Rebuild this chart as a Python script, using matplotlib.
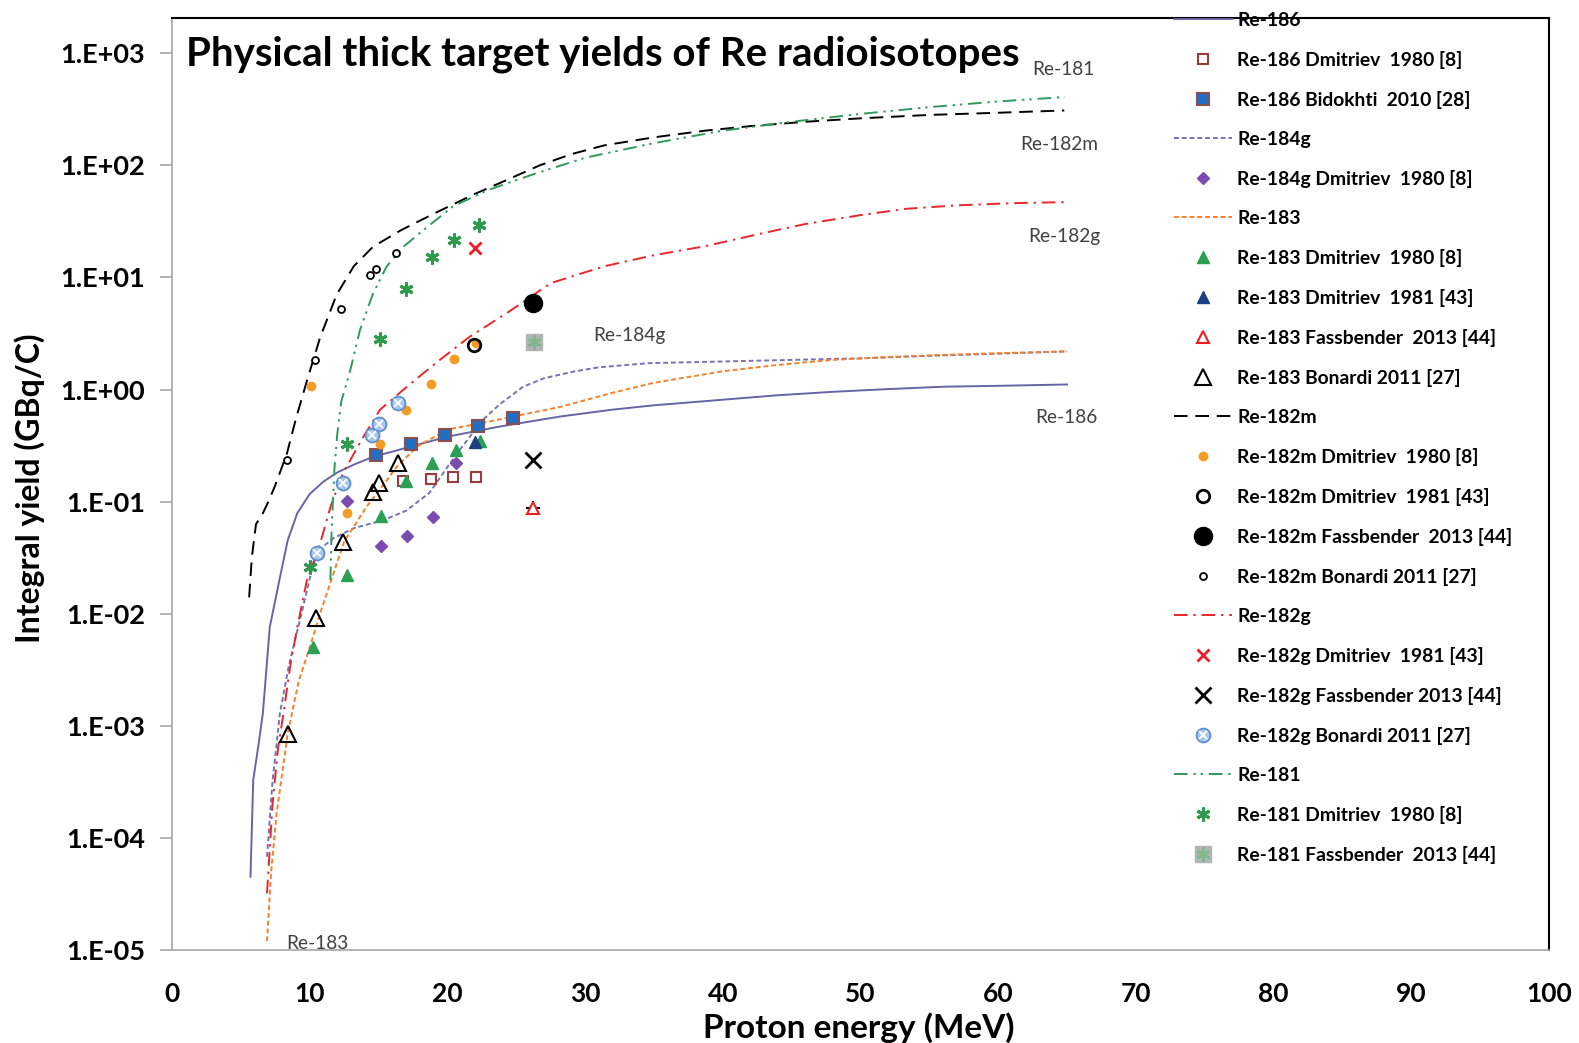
import math
import matplotlib
matplotlib.use('Agg')
import matplotlib.pyplot as plt
from matplotlib.ticker import FixedLocator, FuncFormatter, NullLocator

plt.rcParams['font.family'] = ['Lato', 'DejaVu Sans']

# ---------------- model curves (energy MeV, yield GBq/C) ----------------
re186_E = [5.7, 5.9, 6.3, 6.6, 7.1, 7.8, 8.4, 9.1, 10.0, 11.0, 12.0, 13.2, 14.6, 17.3, 20.0,
           23.8, 28.2, 31.9, 35.0, 39.9, 44.0, 48.0, 52.0, 56.0, 60.0, 65.0]
re186_Y = [4.5e-5, 3.3e-4, 7.0e-4, 1.3e-3, 7.6e-3, 0.020, 0.045, 0.079, 0.117, 0.151, 0.182,
           0.214, 0.251, 0.309, 0.38, 0.468, 0.575, 0.66, 0.724, 0.81, 0.89, 0.955, 1.01,
           1.06, 1.08, 1.11]

re184g_E = [6.9, 7.3, 7.84, 8.5, 9.3, 10.26, 11.0, 11.7, 13.2, 15.3, 17.0, 18.7, 20.7, 22.6,
            23.8, 25.5, 27.0, 29.2, 31.0, 34.6, 40.0, 45.0, 50.0, 55.0, 60.0, 65.0]
re184g_Y = [6.8e-5, 3.2e-4, 1.3e-3, 3.5e-3, 8.9e-3, 0.028, 0.040, 0.047, 0.058, 0.068, 0.083,
            0.12, 0.27, 0.54, 0.74, 1.06, 1.26, 1.45, 1.58, 1.72, 1.78, 1.84, 1.9, 2.0, 2.09, 2.19]

re183_E = [6.9, 7.2, 7.6, 8.4, 9.2, 10.0, 10.75, 12.5, 14.1, 15.6, 16.3, 17.8, 20.0, 22.4,
           24.8, 28.2, 31.9, 35.0, 39.9, 44.0, 48.0, 52.0, 56.0, 60.0, 65.0]
re183_Y = [1.2e-5, 5.0e-5, 1.66e-4, 8.5e-4, 2.5e-3, 5.0e-3, 0.010, 0.044, 0.089, 0.155, 0.204,
           0.31, 0.44, 0.50, 0.575, 0.70, 0.93, 1.15, 1.45, 1.66, 1.84, 1.95, 2.04, 2.11, 2.19]

re182m_E = [5.6, 5.8, 6.1, 6.6, 7.0, 7.5, 8.35, 9.0, 9.8, 10.75, 11.95, 13.2, 14.6, 16.6, 19.0,
            21.9, 24.3, 26.7, 29.0, 31.4, 35.0, 38.7, 42.0, 46.0, 50.0, 55.0, 60.0, 64.8]
re182m_Y = [0.014, 0.032, 0.063, 0.079, 0.10, 0.14, 0.27, 0.55, 1.2, 2.9, 7.0, 12.6, 18.8, 26.3,
            37, 55, 74, 100, 126, 151, 178, 204, 224, 245, 263, 282, 295, 309]

re182g_E = [6.9, 7.3, 7.7, 8.1, 8.6, 9.1, 9.8, 10.7, 11.5, 12.4, 13.9, 15.1, 17.1, 19.2, 21.6,
            24.3, 27.5, 31.4, 35.0, 38.7, 43.0, 46.0, 50.0, 53.3, 57.0, 61.0, 64.8]
re182g_Y = [3.2e-5, 2.0e-4, 6.3e-4, 1.3e-3, 3.5e-3, 7.6e-3, 0.020, 0.040, 0.089, 0.178, 0.38,
            0.66, 1.07, 1.74, 2.95, 4.8, 8.9, 12.6, 15.8, 19, 25, 30, 36, 41, 44, 46, 47]

re181_E = [11.5, 11.6, 11.8, 12.0, 12.3, 12.9, 13.65, 14.6, 15.6, 16.8, 18.5, 20.4, 22.9, 26.2,
           30.0, 35.0, 40.0, 45.0, 50.0, 55.0, 60.0, 64.8]
re181_Y = [0.02, 0.06, 0.2, 0.40, 0.79, 1.41, 3.4, 7.2, 12.6, 18.8, 28, 43, 60, 83, 117, 158,
           204, 245, 288, 331, 372, 407]

# ---------------- experimental data (energy MeV, yield GBq/C) ----------------
re186_dmi80_E = [16.75, 18.8, 20.4, 22.1]
re186_dmi80_Y = [0.153, 0.158, 0.166, 0.166]
re186_bid10_E = [14.8, 17.36, 19.8, 22.25, 24.8]
re186_bid10_Y = [0.26, 0.33, 0.39, 0.47, 0.56]
re184g_dmi80_E = [12.73, 15.2, 17.04, 18.98, 20.6]
re184g_dmi80_Y = [0.102, 0.040, 0.049, 0.073, 0.22]
re183_dmi80_E = [10.26, 12.7, 15.2, 17.0, 18.9, 20.6, 22.4]
re183_dmi80_Y = [0.0051, 0.022, 0.074, 0.153, 0.22, 0.29, 0.35]
re183_dmi81_E = [22.0]
re183_dmi81_Y = [0.34]
re183_fas13_E = [26.2]
re183_fas13_Y = [0.087]
re183_bon11_E = [8.45, 10.46, 12.4, 14.6, 15.0, 16.4]
re183_bon11_Y = [0.00085, 0.0091, 0.044, 0.123, 0.146, 0.22]
re182m_dmi80_E = [10.1, 12.7, 15.1, 17.0, 18.8, 20.5, 22.1]
re182m_dmi80_Y = [1.08, 0.08, 0.33, 0.66, 1.12, 1.87, 2.6]
re182m_dmi81_E = [21.9]
re182m_dmi81_Y = [2.5]
re182m_fas13_E = [26.2]
re182m_fas13_Y = [5.96]
re182m_bon11_E = [8.33, 10.4, 12.3, 14.4, 14.85, 16.3]
re182m_bon11_Y = [0.235, 1.84, 5.2, 10.5, 12.0, 16.6]
re182g_dmi81_E = [22.0]
re182g_dmi81_Y = [18.5]
re182g_fas13_E = [26.2]
re182g_fas13_Y = [0.235]
re182g_bon11_E = [10.55, 12.4, 14.5, 15.0, 16.4]
re182g_bon11_Y = [0.035, 0.148, 0.39, 0.49, 0.76]
re181_dmi80_E = [10.0, 12.73, 15.1, 17.0, 18.9, 20.5, 22.3]
re181_dmi80_Y = [0.026, 0.33, 2.8, 7.9, 15.1, 21.6, 29.5]
re181_fas13_E = [26.3]
re181_fas13_Y = [2.63]

curve_labels = ['Re-181', 'Re-182m', 'Re-182g', 'Re-184g', 'Re-186', 'Re-183']
curve_label_E = [62.5, 61.6, 62.2, 30.6, 62.7, 8.3]
curve_label_Y = [716, 155, 23.2, 3.05, 0.56, 1.15e-5]

x_ticks = [0, 10, 20, 30, 40, 50, 60, 70, 80, 90, 100]
y_ticks = [1e-5, 1e-4, 1e-3, 1e-2, 1e-1, 1e0, 1e1, 1e2, 1e3]

W, H = 1579, 1043
fig = plt.figure(figsize=(W / 100, H / 100), dpi=100)
ax = fig.add_axes([172 / W, 93 / H, 1377 / W, 932 / H])
ax.set_yscale('log')
ax.set_xlim(0, 100)
ax.set_ylim(1e-5, 10 ** 3.315)

lw = 1.4
c186 = '#6666a6'
c184 = '#7474b4'
c183 = '#f7802a'
c182g = '#e8262b'
c181 = '#2f9a5c'

h_186, = ax.plot(re186_E, re186_Y, color=c186, lw=lw, label='Re-186')
h_184, = ax.plot(re184g_E, re184g_Y, color=c184, lw=lw, dashes=(2.5, 1.5), label='Re-184g')
h_183, = ax.plot(re183_E, re183_Y, color=c183, lw=lw, dashes=(2.5, 1.5), label='Re-183')
h_182m, = ax.plot(re182m_E, re182m_Y, color='black', lw=lw, dashes=(7, 4), label='Re-182m')
h_182g, = ax.plot(re182g_E, re182g_Y, color=c182g, lw=lw, dashes=(7, 3, 1.2, 3), label='Re-182g')
h_181, = ax.plot(re181_E, re181_Y, color=c181, lw=lw, dashes=(7, 3, 1.2, 2.5, 1.2, 3), label='Re-181')

m = dict(linestyle='none', zorder=5)
d186a, = ax.plot(re186_dmi80_E, re186_dmi80_Y, marker='s', ms=7, mfc='white', mec='#9b3b3b', mew=1.5, **m)
d186b, = ax.plot(re186_bid10_E, re186_bid10_Y, marker='s', ms=9, mfc='#1f6fc4', mec='#8a5050', mew=1.5, **m)
d184, = ax.plot(re184g_dmi80_E, re184g_dmi80_Y, marker='D', ms=6, mfc='#7b4cb0', mec='#7b4cb0', **m)
d183a, = ax.plot(re183_dmi80_E, re183_dmi80_Y, marker='^', ms=8, mfc='#2aa052', mec='#2aa052', **m)
d183b, = ax.plot(re183_dmi81_E, re183_dmi81_Y, marker='^', ms=8, mfc='#1b3f80', mec='#1b3f80', **m)
ax.plot(re183_fas13_E, re183_fas13_Y, marker='+', ms=10, mec='black', mew=1.5, **m)
d183c, = ax.plot(re183_fas13_E, re183_fas13_Y, marker='^', ms=8, mfc='white', mec='#ee1c24', mew=1.5, **m)
d183d, = ax.plot(re183_bon11_E, re183_bon11_Y, marker='^', ms=11, mfc='none', mec='black', mew=1.5, **m)
d182a, = ax.plot(re182m_dmi80_E, re182m_dmi80_Y, marker='o', ms=6, mfc='#f59a23', mec='#f59a23', **m)
d182b, = ax.plot(re182m_dmi81_E, re182m_dmi81_Y, marker='o', ms=9, mfc='none', mec='black', mew=2, **m)
d182c, = ax.plot(re182m_fas13_E, re182m_fas13_Y, marker='o', ms=13, mfc='black', mec='black', **m)
d182d, = ax.plot(re182m_bon11_E, re182m_bon11_Y, marker='o', ms=5, mfc='white', mec='black', mew=1.3, **m)
d182e, = ax.plot(re182g_dmi81_E, re182g_dmi81_Y, marker='x', ms=9, mec='#ee1c24', mew=2, **m)
d182f, = ax.plot(re182g_fas13_E, re182g_fas13_Y, marker='x', ms=12, mec='black', mew=2, **m)
d182g1, = ax.plot(re182g_bon11_E, re182g_bon11_Y, marker='o', ms=10, mfc='#a9c8ec', mec='#5b8fd0', mew=1.3, **m)
d182g2, = ax.plot(re182g_bon11_E, re182g_bon11_Y, marker='x', ms=6, mec='white', mew=1.3, zorder=6, linestyle='none')
d181a, = ax.plot(re181_dmi80_E, re181_dmi80_Y, marker=(6, 2, 0), ms=10, mec='#2f9a4e', mew=2.2, **m)
d181b1, = ax.plot(re181_fas13_E, re181_fas13_Y, marker='s', ms=12, mfc='#b4b4b4', mec='#b4b4b4', **m)
d181b2, = ax.plot(re181_fas13_E, re181_fas13_Y, marker=(6, 2, 0), ms=10, mec='#7fb88a', mew=1.8, zorder=6, linestyle='none')

for lab, e, y in zip(curve_labels, curve_label_E, curve_label_Y):
    ax.text(e, y, lab, fontsize=13.8, color='#404040', va='center', ha='left')

# axes styling
for s in ['left', 'bottom']:
    ax.spines[s].set_color('#a6a6a6')
    ax.spines[s].set_linewidth(1.2)
for s in ['top', 'right']:
    ax.spines[s].set_color('black')
    ax.spines[s].set_linewidth(1.5)

ax.xaxis.set_major_locator(FixedLocator(x_ticks))
ax.yaxis.set_major_locator(FixedLocator(y_ticks))
ax.yaxis.set_minor_locator(NullLocator())
ax.yaxis.set_major_formatter(FuncFormatter(lambda v, p: '1.E%+03d' % round(math.log10(v))))
ax.tick_params(axis='x', length=0, pad=23, labelsize=19)
ax.tick_params(axis='y', length=8.5, width=1.2, color='#a6a6a6', pad=11, labelsize=19.5, direction='out')
for t in ax.get_xticklabels() + ax.get_yticklabels():
    t.set_fontweight('bold')

fig.text(186 / W, 1 - 54 / H, 'Physical thick target yields of Re radioisotopes',
         fontsize=29, fontweight='bold', va='center', ha='left')
fig.text(859 / W, 1 - 1028 / H, 'Proton energy (MeV)', fontsize=24, fontweight='bold',
         va='center', ha='center')
fig.text(30 / W, 1 - 488 / H, 'Integral yield (GBq/C)', fontsize=23, fontweight='bold',
         va='center', ha='center', rotation=90)

handles = [h_186, d186a, d186b, h_184, d184, h_183, d183a, d183b, d183c, d183d,
           h_182m, d182a, d182b, d182c, d182d, h_182g, d182e, d182f, (d182g1, d182g2),
           h_181, d181a, (d181b1, d181b2)]
labels = ['Re-186', 'Re-186 Dmitriev  1980 [8]', 'Re-186 Bidokhti  2010 [28]', 'Re-184g',
          'Re-184g Dmitriev  1980 [8]', 'Re-183', 'Re-183 Dmitriev  1980 [8]',
          'Re-183 Dmitriev  1981 [43]', 'Re-183 Fassbender  2013 [44]', 'Re-183 Bonardi 2011 [27]',
          'Re-182m', 'Re-182m Dmitriev  1980 [8]', 'Re-182m Dmitriev  1981 [43]',
          'Re-182m Fassbender  2013 [44]', 'Re-182m Bonardi 2011 [27]', 'Re-182g',
          'Re-182g Dmitriev  1981 [43]', 'Re-182g Fassbender 2013 [44]', 'Re-182g Bonardi 2011 [27]',
          'Re-181', 'Re-181 Dmitriev  1980 [8]', 'Re-181 Fassbender  2013 [44]']
leg = ax.legend(handles, labels, loc='upper left', bbox_to_anchor=(1174 / W, 1 - 12 / H),
                bbox_transform=fig.transFigure, frameon=False, borderpad=0, borderaxespad=0,
                handlelength=3.0, handletextpad=0.28, labelspacing=1.14,
                prop=dict(weight='bold', size=13.9))

fig.savefig('out.png', dpi=100)
